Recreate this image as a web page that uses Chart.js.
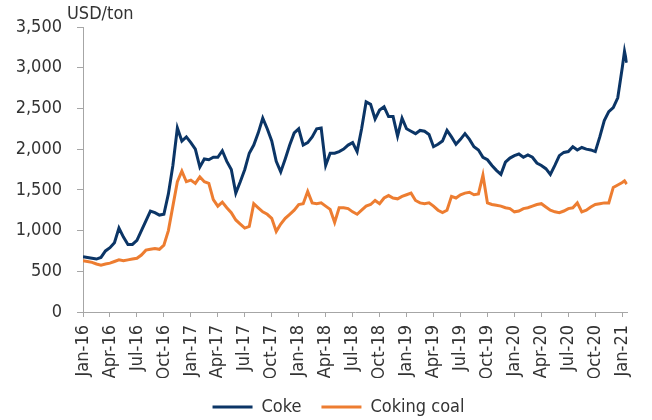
<!DOCTYPE html>
<html>
<head>
<meta charset="utf-8">
<script src="https://cdn.jsdelivr.net/npm/chart.js@4.4.1/dist/chart.umd.min.js"></script>
<style>
  html, body { margin: 0; padding: 0; background: #ffffff; }
  #wrap { width: 652px; height: 420px; }
</style>
</head>
<body>
<div id="wrap"><canvas id="c" width="652" height="420"></canvas></div>
<script>
// Time positions (months since Jan 2016)
const months = [
  0,0.5,1,1.5,2,2.5,3,3.5,4,4.5,5,5.5,6,6.5,7,7.5,8,8.5,9,9.5,
  10,10.5,11,11.5,12,12.5,13,13.5,14,14.5,15,15.5,16,16.5,17,17.5,18,18.5,19,19.5,
  20,20.5,21,21.5,22,22.5,23,23.5,24,24.5,25,25.5,26,26.5,27,27.5,28,28.5,29,29.5,
  30,30.5,31,31.5,32,32.5,33,33.5,34,34.5,35,35.5,36,36.5,37,37.5,38,38.5,39,39.5,
  40,40.5,41,41.5,42,42.5,43,43.5,44,44.5,45,45.5,46,46.5,47,47.5,48,48.5,49,49.5,
  50,50.5,51,51.5,52,52.5,53,53.5,54,54.5,55,55.5,56,56.5,57,57.5,58,58.5,59,59.5,
  60,60.25,60.5
];
const coke = [
  680,670,660,650,670,750,790,850,1030,920,830,830,880,1000,1120,1240,1220,1190,1200,1450,
  1800,2260,2100,2150,2080,2000,1780,1880,1870,1900,1900,1980,1850,1750,1460,1600,1750,1950,2050,2200,
  2380,2250,2100,1850,1720,1880,2050,2200,2250,2050,2080,2150,2250,2260,1800,1950,1950,1970,2000,2050,
  2080,1970,2250,2580,2550,2370,2480,2520,2400,2400,2160,2380,2250,2220,2190,2230,2220,2180,2030,2060,
  2100,2230,2150,2060,2120,2190,2120,2030,1990,1900,1870,1800,1740,1690,1840,1890,1920,1940,1900,1930,
  1900,1830,1800,1760,1690,1800,1920,1960,1970,2030,1990,2020,2000,1990,1970,2150,2350,2460,2510,2630,
  3000,3200,3060
];
const cokingCoal = [
  630,620,610,590,575,590,600,620,640,630,640,650,660,700,760,770,780,770,820,1000,
  1300,1600,1730,1600,1620,1580,1660,1600,1580,1380,1300,1350,1280,1220,1130,1080,1030,1050,1330,1280,
  1230,1200,1150,990,1080,1150,1200,1250,1320,1330,1480,1340,1330,1340,1300,1260,1100,1280,1280,1270,
  1230,1200,1250,1300,1320,1370,1330,1400,1430,1400,1390,1420,1440,1460,1370,1340,1330,1340,1300,1250,
  1220,1250,1420,1400,1440,1460,1470,1440,1450,1680,1340,1320,1310,1300,1280,1270,1230,1240,1270,1280,
  1300,1320,1330,1290,1250,1230,1220,1240,1270,1280,1340,1230,1250,1290,1320,1330,1340,1340,1530,1560,
  1590,1610,1570
];
const tickLabels = [
  'Jan-16','Apr-16','Jul-16','Oct-16','Jan-17','Apr-17','Jul-17','Oct-17',
  'Jan-18','Apr-18','Jul-18','Oct-18','Jan-19','Apr-19','Jul-19','Oct-19',
  'Jan-20','Apr-20','Jul-20','Oct-20','Jan-21'
];
const tickMonths = [0,3,6,9,12,15,18,21,24,27,30,33,36,39,42,45,48,51,54,57,60];
const seriesNames = ['Coke', 'Coking coal'];
const unitLabel = 'USD/ton';

const FONT = '"DejaVu Sans Condensed", "DejaVu Sans", sans-serif';
const FSIZE = 18;
const TXT = '#333333';
const AX = '#a6a6a6';

const toPoints = (vals) => vals.map((v, i) => ({ x: months[i], y: v }));

const unitPlugin = {
  id: 'unitLabel',
  afterLayout(chart) {
    const lg = chart.legend;
    if (lg) { lg.left += 20; lg.right += 20; }
  },
  afterDraw(chart) {
    const { ctx, chartArea } = chart;
    ctx.save();
    ctx.font = FSIZE + 'px ' + FONT;
    ctx.fillStyle = TXT;
    ctx.textAlign = 'left';
    ctx.textBaseline = 'middle';
    ctx.fillText(unitLabel, chartArea.left - 16, chartArea.top - 13);
    ctx.restore();
  }
};

new Chart(document.getElementById('c'), {
  type: 'line',
  data: {
    datasets: [
      {
        label: seriesNames[0],
        data: toPoints(coke),
        borderColor: '#0b3566',
        backgroundColor: '#0b3566',
        borderWidth: 3,
        pointRadius: 0,
        pointStyle: 'line',
        tension: 0
      },
      {
        label: seriesNames[1],
        data: toPoints(cokingCoal),
        borderColor: '#ed7d31',
        backgroundColor: '#ed7d31',
        borderWidth: 3,
        pointRadius: 0,
        pointStyle: 'line',
        tension: 0
      }
    ]
  },
  options: {
    responsive: false,
    devicePixelRatio: 1,
    animation: false,
    layout: { padding: { left: 0, right: 15, top: 27, bottom: -6 } },
    plugins: {
      legend: {
        position: 'bottom',
        labels: {
          usePointStyle: true,
          pointStyleWidth: 40,
          padding: 20,
          color: TXT,
          font: { family: FONT, size: FSIZE }
        }
      },
      tooltip: { enabled: false }
    },
    scales: {
      x: {
        type: 'linear',
        min: 0,
        max: 60.6,
        afterFit(scale) { scale.height = 66; },
        afterBuildTicks(scale) {
          scale.ticks = tickMonths.map(v => ({ value: v }));
        },
        ticks: {
          autoSkip: false,
          maxRotation: 90,
          minRotation: 90,
          padding: 8,
          color: TXT,
          font: { family: FONT, size: FSIZE },
          callback: (v, i) => tickLabels[i]
        },
        grid: { drawOnChartArea: false, drawTicks: true, tickLength: 5, color: AX },
        border: { display: true, color: AX, width: 1 }
      },
      y: {
        min: 0,
        max: 3500,
        afterFit(scale) { scale.width = 83; },
        ticks: {
          stepSize: 500,
          padding: 15,
          color: TXT,
          font: { family: FONT, size: FSIZE },
          callback: (v) => v.toLocaleString('en-US')
        },
        grid: { drawOnChartArea: false, drawTicks: true, tickLength: 6, color: AX },
        border: { display: true, color: AX, width: 1 }
      }
    }
  },
  plugins: [unitPlugin]
});
</script>
</body>
</html>
